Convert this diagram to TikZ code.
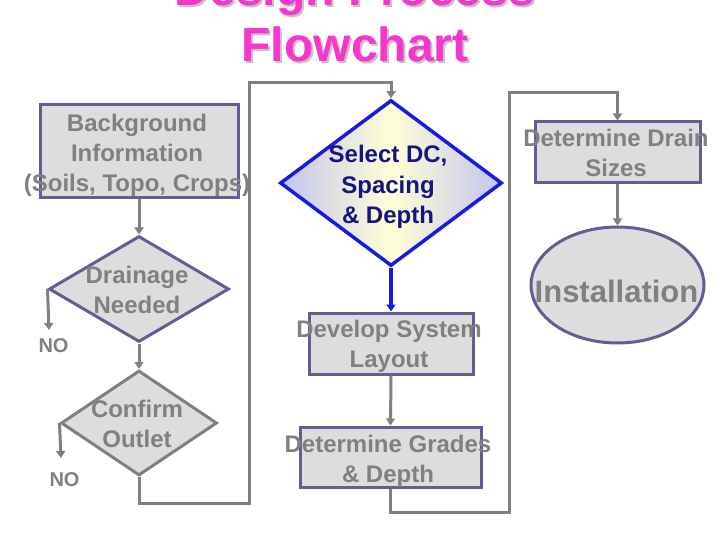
\documentclass[tikz,border=0pt]{standalone}
\usepackage{fontspec}
\setmainfont{Liberation Sans}
\usetikzlibrary{shapes.geometric,arrows.meta}
\definecolor{tgray}{RGB}{128,128,128}
\definecolor{bfill}{RGB}{221,221,221}
\definecolor{bline}{RGB}{95,95,145}
\definecolor{bblue}{RGB}{25,25,230}
\definecolor{navy}{RGB}{20,20,130}
\definecolor{lav}{RGB}{196,196,240}
\definecolor{yel}{RGB}{255,255,214}
\definecolor{magen}{RGB}{245,55,205}
\definecolor{shad}{RGB}{200,192,200}
\tikzset{
  boxnode/.style={draw=bline, fill=bfill, line width=3pt, rectangle, inner sep=0pt},
  dianode/.style={draw=bline, fill=bfill, line width=3pt, diamond, inner sep=0pt},
  txt/.style={font=\fontsize{24}{30}\selectfont\bfseries, text=tgray, align=center, inner sep=0pt},
  conn/.style={draw=tgray, line width=3pt, -{Triangle[length=7pt,width=9pt]}},
  plain/.style={draw=tgray, line width=3pt},
  titletxt/.style={font=\fontsize{48}{56}\selectfont\bfseries, anchor=base, inner sep=0pt},
  notxt/.style={font=\fontsize{20}{24}\selectfont\bfseries, text=tgray, anchor=base, inner sep=0pt}
}
\begin{document}
\begin{tikzpicture}[x=1pt,y=-1pt]
\useasboundingbox (0,0) rectangle (720,540);
\clip (0,0) rectangle (720,540);
% title
\node[titletxt, text=shad] (titleAs) at (357,8) {Design Process};
\node[titletxt, text=magen] (titleA) at (355,6) {Design Process};
\node[titletxt, text=shad] (titleBs) at (357,64) {Flowchart};
\node[titletxt, text=magen] (titleB) at (355,62) {Flowchart};
% shapes
\node[boxnode, minimum width=198pt, minimum height=93pt] (bg) at (139,151.5) {};
\node[dianode, minimum width=180pt, minimum height=106pt] (d1) at (139,289) {};
\node[dianode, draw=tgray, minimum width=156pt, minimum height=105pt] (d2) at (139,423) {};
\node[diamond, draw=bblue, line width=3.5pt, inner sep=0pt, minimum width=222pt, minimum height=166pt,
      left color=lav, right color=lav, middle color=yel] (d3) at (391,183) {};
\node[boxnode, minimum width=164pt, minimum height=61pt] (lay) at (391,343.5) {};
\node[boxnode, minimum width=181pt, minimum height=60pt] (gr) at (390.5,457) {};
\node[boxnode, minimum width=165pt, minimum height=61pt] (dr) at (617.5,152.5) {};
\node[ellipse, draw=bline, fill=bfill, line width=3pt, inner sep=0pt, minimum width=173pt, minimum height=116pt] (inst) at (617.5,285) {};
% texts
\node[txt] (tbg) at (137,156) {\strut Background\\\strut Information\\\strut (Soils, Topo, Crops)};
\node[txt] (td1) at (137,292) {\strut Drainage\\\strut Needed};
\node[txt] (td2) at (137,426) {\strut Confirm\\\strut Outlet};
\node[txt, text=navy] (td3) at (388,187) {\strut Select DC,\\\strut Spacing\\\strut \& Depth};
\node[txt] (tlay) at (389,346) {\strut Develop System\\\strut Layout};
\node[txt] (tgr) at (388,461) {\strut Determine Grades\\\strut \& Depth};
\node[txt] (tdr) at (616,156) {\strut Determine Drain\\\strut Sizes};
\node[font=\fontsize{31}{36}\selectfont\bfseries, text=tgray, anchor=base, inner sep=0pt] (tinst) at (616.5,302) {Installation};
\node[notxt] (no1) at (53.5,352) {NO};
\node[notxt] (no2) at (64.5,486) {NO};
% coordinates
\coordinate (no1a) at (49,330);
\coordinate (no2a) at (61,458);
\coordinate (ca) at (249,503);
\coordinate (cb) at (249,83);
\coordinate (cc) at (509,512);
\coordinate (cd) at (509,93);
% connectors
\draw[conn] (bg.south) -- (d1.north);
\draw[conn] (d1.south) -- (d2.north);
\draw[conn] (d1.west) -- (no1a);
\draw[conn] (d2.west) -- (no2a);
\draw[conn] (d2.south) |- (ca) -- (cb) -| (d3.north);
\draw[conn, draw=bblue, line width=3.5pt] (d3.south) -- (lay.north);
\draw[conn] (lay.south) -- (gr.north);
\draw[conn] (gr.south) |- (cc) -- (cd) -| (dr.north);
\draw[conn] (dr.south) -- (inst.north);
\end{tikzpicture}
\end{document}
